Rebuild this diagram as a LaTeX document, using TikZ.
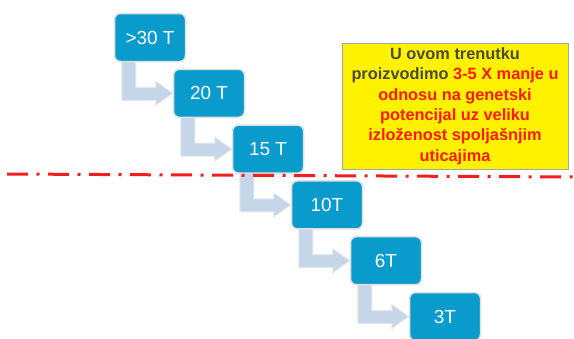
\documentclass[tikz,border=0pt]{standalone}
\usepackage{fontspec}
\setmainfont{Liberation Sans}
\usetikzlibrary{calc,backgrounds}
\definecolor{boxblue}{HTML}{0A9BCD}
\definecolor{arrowfill}{HTML}{C5D6E9}
\definecolor{arrowedge}{HTML}{E4E9F0}
\definecolor{notetext}{HTML}{4A4A3A}
\definecolor{notered}{HTML}{FF1A00}
\definecolor{linered}{HTML}{F01E1E}
\newcommand\steparrow[2]{%
  \coordinate (#1-a) at ($(#1.south west)+(8,-4)$);
  \coordinate (#1-b) at ($(#1.south west)+(22,-4)$);
  \coordinate (#1-c) at ($(#2.west)+(0,7)$);
  \coordinate (#1-d) at ($(#2.west)+(0,-6)$);
  \filldraw[arrowshape] (#1-a) -- (#1-a |- #1-c) -- ($(#2.west)+(-17,7)$)
    -- ($(#2.west)+(-17,12)$) -- (#2.west) -- ($(#2.west)+(-17,-12)$)
    -- ($(#2.west)+(-17,-6)$) -- (#1-b |- #1-d) -- (#1-b) -- cycle;}
\begin{document}
\begin{tikzpicture}[x=1bp,y=-1bp,
  stepbox/.style={rectangle, rounded corners=6bp, fill=boxblue, draw=black!12,
    line width=1.5bp, minimum width=71bp, minimum height=48bp, text=white,
    font=\fontsize{19}{22}\selectfont, inner sep=0pt},
  arrowshape/.style={fill=arrowfill, draw=arrowedge, line width=1bp, line join=miter},
  notebox/.style={rectangle, fill=yellow, draw=black!35, line width=0.8bp,
    minimum width=226bp, minimum height=126bp, align=center, text=notetext,
    font=\bfseries\fontsize{16.4}{20.4}\selectfont, inner sep=0pt},
  redline/.style={draw=linered, line width=3bp,
    dash pattern=on 21bp off 8.5bp on 3bp off 8.5bp}]
\useasboundingbox (0,0) rectangle (574,338);
\node[stepbox] (b1) at (150,37.5) {>30 T};
\node[stepbox] (b2) at (209,93.3) {20 T};
\node[stepbox] (b3) at (268,149.1) {15 T};
\node[stepbox] (b4) at (327,204.9) {10T};
\node[stepbox] (b5) at (386,260.7) {6T};
\node[stepbox] (b6) at (445,316.5) {3T};
\begin{pgfonlayer}{background}
\steparrow{b1}{b2}
\steparrow{b2}{b3}
\steparrow{b3}{b4}
\steparrow{b4}{b5}
\steparrow{b5}{b6}
\end{pgfonlayer}
\node[notebox] (note) at (455,106) {U ovom trenutku\\
proizvodimo \textcolor{notered}{3-5 X manje u}\\
\textcolor{notered}{odnosu na genetski}\\
\textcolor{notered}{potencijal uz veliku}\\
\textcolor{notered}{izloženost spoljašnjim}\\
\textcolor{notered}{uticajima}};
\coordinate (l1) at (7,174);
\coordinate (l2) at (574,177);
\draw[redline] (l1) -- (l2);
\end{tikzpicture}
\end{document}
